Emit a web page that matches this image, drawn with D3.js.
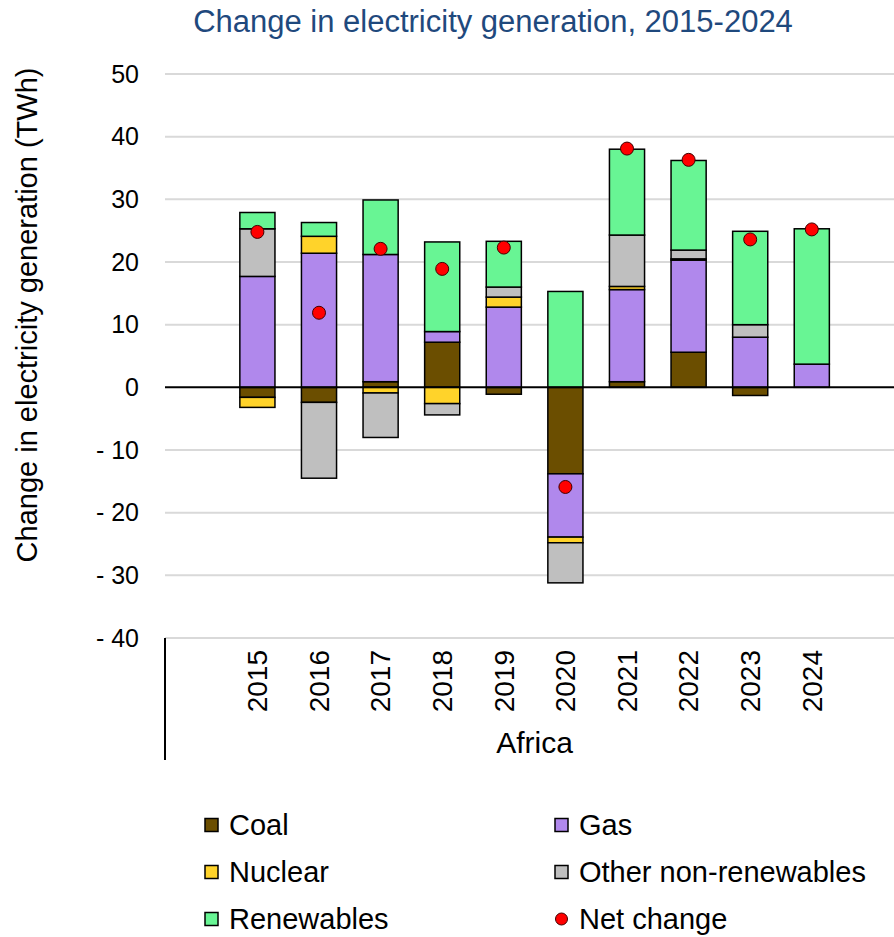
<!DOCTYPE html>
<html>
<head>
<meta charset="utf-8">
<script src="https://cdn.jsdelivr.net/npm/d3@7"></script>
<style>
  body { margin: 0; background: #fff; }
  text { font-family: "Liberation Sans", Arial, sans-serif; }
</style>
</head>
<body>
<div id="chart"></div>
<script>
var years = ["2015", "2016", "2017", "2018", "2019", "2020", "2021", "2022", "2023", "2024"];
var coal = [-1.6, -2.4, 0.9, 7.2, -1.1, -13.8, 0.9, 5.6, -1.3, 0];
var gas = [17.7, 21.4, 20.3, 1.7, 12.8, -10.1, 14.7, 14.7, 8.0, 3.7];
var nuclear = [-1.6, 2.7, -0.9, -2.6, 1.6, -0.9, 0.5, 0.2, 0, 0];
var other = [7.6, -12.1, -7.1, -1.8, 1.6, -6.4, 8.2, 1.4, 2.0, 0];
var renewables = [2.6, 2.2, 8.7, 14.3, 7.3, 15.3, 13.7, 14.3, 14.9, 21.6];
var netChange = [24.8, 11.9, 22.1, 18.9, 22.3, -15.9, 38.1, 36.3, 23.6, 25.2];
var yTicks = [-40, -30, -20, -10, 0, 10, 20, 30, 40, 50];

var seriesNames = ["Coal", "Gas", "Nuclear", "Other non-renewables", "Renewables"];
var seriesData = [coal, gas, nuclear, other, renewables];
var colors = ["#6b4e00", "#b088ec", "#ffd32a", "#bfbfbf", "#68f594"];

function init(){
    var w = 894;
    var h = 937;
    var left = 165;
    var slot = 61.6;

    // table for d3.stack, one row per year
    var rows = years.map(function(y, i) {
        var r = {year: y};
        seriesNames.forEach(function(s, k) { r[s] = seriesData[k][i]; });
        return r;
    });

    var stack = d3.stack()
                  .keys(seriesNames)
                  .offset(d3.stackOffsetDiverging);
    var layers = stack(rows);

    var x = d3.scaleBand()
              .domain(years)
              .range([left + slot, left + slot * 11])
              .paddingInner(0.43)
              .paddingOuter(0.215);

    var y = d3.scaleLinear()
              .domain([-40, 50])
              .range([638, 74]);

    var svg = d3.select("#chart")
                .append("svg")
                .attr("width", w)
                .attr("height", h);

    // gridlines
    svg.append("g")
        .selectAll("line")
        .data(yTicks.filter(function(t) { return t !== 0; }))
        .enter()
        .append("line")
        .attr("x1", left)
        .attr("x2", w)
        .attr("y1", function(d) { return y(d); })
        .attr("y2", function(d) { return y(d); })
        .attr("stroke", "#d9d9d9")
        .attr("stroke-width", 2);

    // y tick labels
    svg.append("g")
        .selectAll("text")
        .data(yTicks)
        .enter()
        .append("text")
        .attr("x", 139)
        .attr("y", function(d) { return y(d); })
        .attr("dy", "0.35em")
        .attr("text-anchor", "end")
        .attr("font-size", 25)
        .attr("fill", "#000")
        .text(function(d) { return d < 0 ? "- " + Math.abs(d) : d; });

    // stacked bars
    svg.append("g")
        .selectAll("g")
        .data(layers)
        .enter()
        .append("g")
        .attr("fill", function(d, i) { return colors[i]; })
        .selectAll("rect")
        .data(function(d) { return d; })
        .enter()
        .append("rect")
        .filter(function(d) { return d[1] - d[0] !== 0; })
        .attr("x", function(d) { return x(d.data.year); })
        .attr("y", function(d) { return y(d[1]); })
        .attr("width", x.bandwidth())
        .attr("height", function(d) { return y(d[0]) - y(d[1]); })
        .attr("stroke", "#000")
        .attr("stroke-width", 1.5);

    // zero line
    svg.append("line")
        .attr("x1", left)
        .attr("x2", w)
        .attr("y1", y(0))
        .attr("y2", y(0))
        .attr("stroke", "#000")
        .attr("stroke-width", 2);

    // net change dots
    svg.append("g")
        .selectAll("circle")
        .data(netChange)
        .enter()
        .append("circle")
        .attr("cx", function(d, i) { return x(years[i]) + x.bandwidth() / 2; })
        .attr("cy", function(d) { return y(d); })
        .attr("r", 6.5)
        .attr("fill", "#ff0000")
        .attr("stroke", "#400000")
        .attr("stroke-width", 1);

    // category axis separator
    svg.append("line")
        .attr("x1", left)
        .attr("x2", left)
        .attr("y1", 638)
        .attr("y2", 760)
        .attr("stroke", "#000")
        .attr("stroke-width", 2);

    // year labels (rotated)
    svg.append("g")
        .selectAll("text")
        .data(years)
        .enter()
        .append("text")
        .attr("transform", function(d) {
            return "translate(" + (x(d) + x.bandwidth() / 2) + ",650) rotate(-90)";
        })
        .attr("dy", "0.35em")
        .attr("text-anchor", "end")
        .attr("font-size", 28)
        .text(function(d) { return d; });

    svg.append("text")
        .attr("x", (x.range()[0] + x.range()[1]) / 2)
        .attr("y", 753)
        .attr("text-anchor", "middle")
        .attr("font-size", 30)
        .text("Africa");

    // title
    svg.append("text")
        .attr("x", 493)
        .attr("y", 32)
        .attr("text-anchor", "middle")
        .attr("font-size", 31)
        .attr("fill", "#1f497d")
        .text("Change in electricity generation, 2015-2024");

    // y axis title
    svg.append("text")
        .attr("transform", "translate(37,315) rotate(-90)")
        .attr("text-anchor", "middle")
        .attr("font-size", 29)
        .text("Change in electricity generation (TWh)");

    // legend
    var legendItems = seriesNames.concat(["Net change"]);
    var legend = svg.append("g")
                    .selectAll("g")
                    .data(legendItems)
                    .enter()
                    .append("g")
                    .attr("transform", function(d, i) {
                        var col = i % 2, row = Math.floor(i / 2);
                        return "translate(" + (col === 0 ? 205 : 555) + "," + (825 + row * 47) + ")";
                    });

    legend.each(function(d, i) {
        var g = d3.select(this);
        if (d === "Net change") {
            g.append("circle")
                .attr("cx", 6.5)
                .attr("cy", 0)
                .attr("r", 6)
                .attr("fill", "#ff0000")
                .attr("stroke", "#400000")
                .attr("stroke-width", 1);
        } else {
            g.append("rect")
                .attr("x", 0)
                .attr("y", -6.5)
                .attr("width", 13)
                .attr("height", 13)
                .attr("fill", colors[i])
                .attr("stroke", "#000")
                .attr("stroke-width", 1.5);
        }
        g.append("text")
            .attr("x", 24)
            .attr("y", 0)
            .attr("dy", "0.35em")
            .attr("font-size", 29)
            .text(d);
    });
}
window.onload = init;
</script>
</body>
</html>
